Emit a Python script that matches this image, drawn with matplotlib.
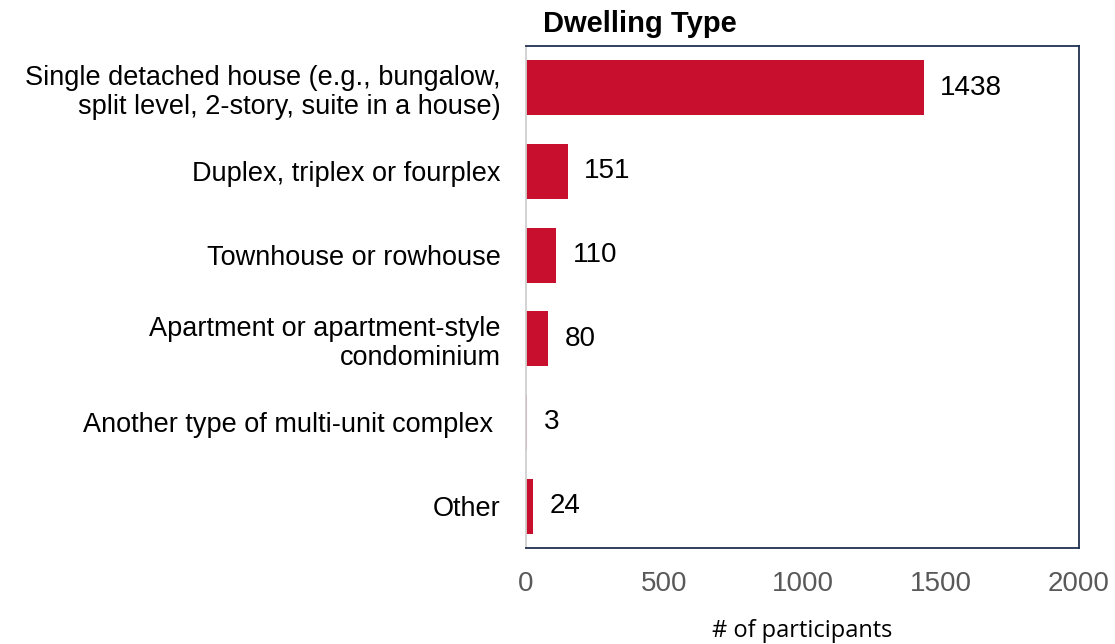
import matplotlib.pyplot as plt

# Dwelling type counts
categories = [
    "Single detached house (e.g., bungalow,\nsplit level, 2-story, suite in a house)",
    "Duplex, triplex or fourplex",
    "Townhouse or rowhouse",
    "Apartment or apartment-style\ncondominium",
    "Another type of multi-unit complex ",
    "Other",
]
counts = [1438, 151, 110, 80, 3, 24]
xticks = [0, 500, 1000, 1500, 2000]

plt.rcParams['font.family'] = ['Liberation Sans', 'DejaVu Sans']

fig = plt.figure(figsize=(11.15, 6.44), dpi=100)
ax = fig.add_axes([0.4717, 0.1491, 0.4960, 0.7795])

pos = list(range(len(categories)))
bars = ax.barh(pos, counts, height=0.66, color='#C8102E')

# value labels next to each bar
for y, v in zip(pos, counts):
    ax.annotate(str(v), xy=(v, y), xytext=(12, 0), textcoords='offset points',
                va='center', ha='left', fontsize=20, color='black')

ax.set_ylim(len(categories) - 0.5, -0.5)
ax.set_xlim(0, 2000)
ax.set_yticks(pos)
ax.set_yticklabels(categories, fontsize=19.5, color='black', linespacing=1.16)
ax.set_xticks(xticks)
ax.set_xticklabels([str(t) for t in xticks], fontsize=20, color='#595959')
ax.tick_params(axis='y', length=0, pad=18)
ax.tick_params(axis='x', length=0, pad=16.5)

for side in ['top', 'right', 'bottom']:
    ax.spines[side].set_color('#1F3050')
    ax.spines[side].set_linewidth(1.3)
ax.spines['left'].set_color('#D0D0D0')
ax.spines['left'].set_linewidth(1.3)

ax.set_xlabel('# of participants', fontsize=17, family='Open Sans', labelpad=16)
fig.text(0.487, 0.962, 'Dwelling Type', fontsize=21, fontweight='bold',
         ha='left', va='center')

fig.savefig('out.png', dpi=100)
